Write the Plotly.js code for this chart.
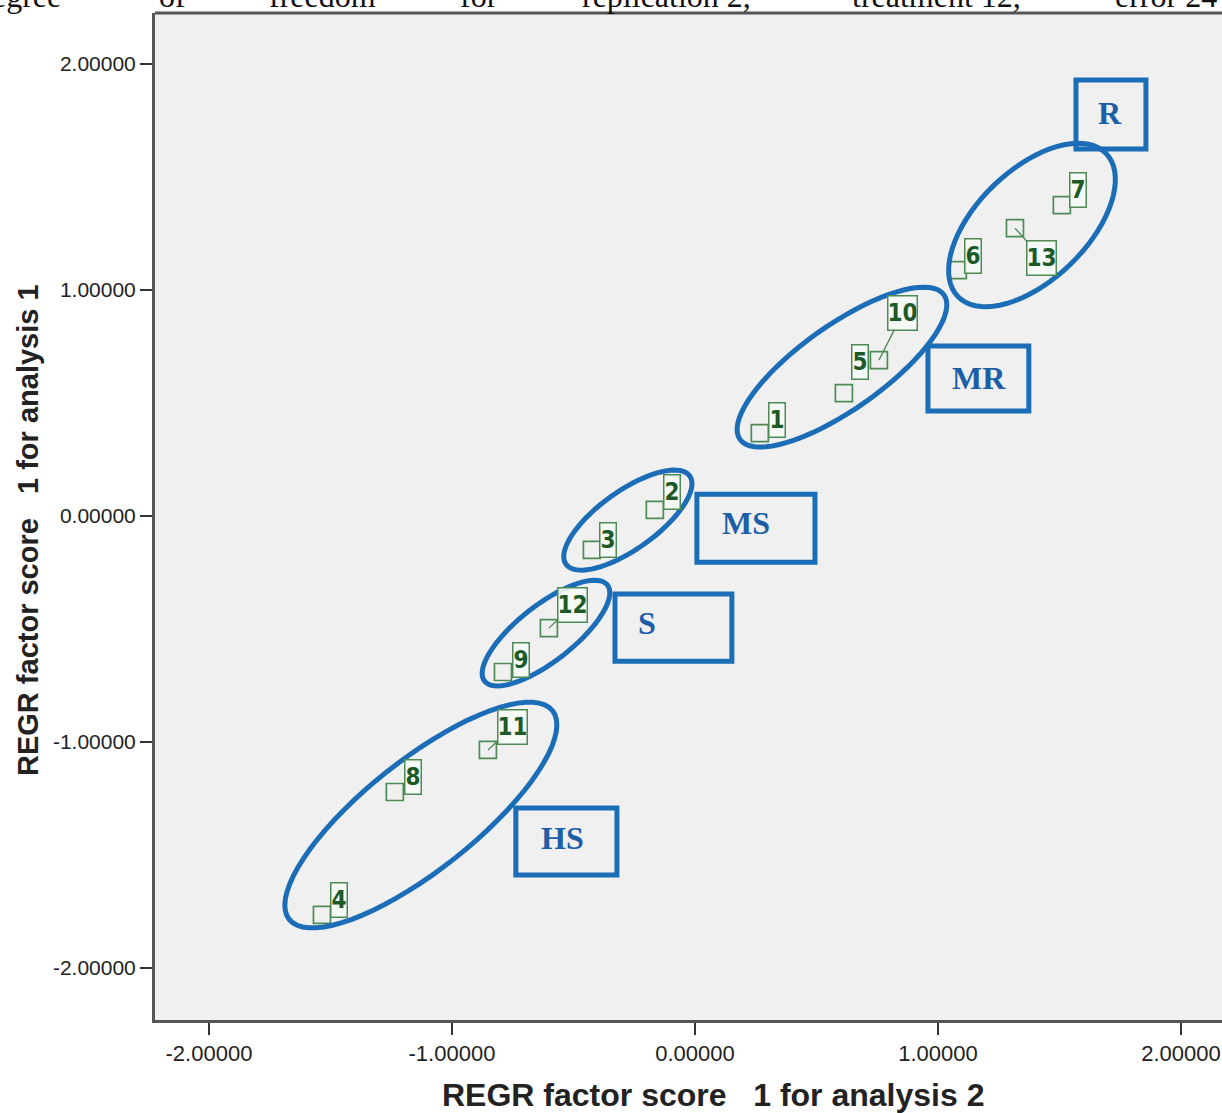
<!DOCTYPE html>
<html>
<head>
<meta charset="utf-8">
<script src="https://cdn.plot.ly/plotly-3.0.1.min.js"></script>
<style>html,body{margin:0;padding:0;background:#fff;}#chart{width:1222px;height:1113px;}</style>
</head>
<body>
<div id="chart"></div>
<script>
// ---- data ----
const pointIds = ['1','2','3','4','5','6','7','8','9','10','11','12','13'];
const factorScore2 = [0.267, -0.165, -0.424, -1.535, 0.613, 1.082, 1.510, -1.235, -0.790, 0.757, -0.852, -0.601, 1.317];
const factorScore1 = [0.367, 0.027, -0.150, -1.765, 0.544, 1.088, 1.376, -1.221, -0.690, 0.690, -1.035, -0.496, 1.274];
const tickValues = [-2, -1, 0, 1, 2];
const tickLabels = ['-2.00000', '-1.00000', '0.00000', '1.00000', '2.00000'];
const groupNames = ['R', 'MR', 'MS', 'S', 'HS'];
const groupCenterX = [1.387, 0.605, -0.276, -0.613, -1.128];
const groupCenterY = [1.288, 0.659, -0.018, -0.518, -1.323];
const groupBoxX0 = [1.568, 0.959, 0.008, -0.329, -0.737];
const groupBoxX1 = [1.856, 1.374, 0.494, 0.152, -0.321];
const groupBoxY0 = [1.624, 0.465, -0.204, -0.642, -1.588];
const groupBoxY1 = [1.929, 0.752, 0.097, -0.345, -1.292];
const groupTextX = [1.708, 1.169, 0.210, -0.198, -0.547];
const groupTextY = [1.783, 0.611, -0.031, -0.473, -1.425];
const noteWords = ['degree', 'of', 'freedom', 'for', 'replication 2,', 'treatment 12,', 'error 24'];
const xTitle = 'REGR factor score\u00a0\u00a0 1 for analysis 2';
const yTitle = 'REGR factor score\u00a0\u00a0 1 for analysis 1';

// ---- layout / style settings (not data) ----
const W = 1222, H = 1113;
const M = {l: 155, r: 0, t: 13, b: 93};
const xRange = [-2.222, 2.169];
const yRange = [-2.230, 2.226];
const plotW = W - M.l - M.r, plotH = H - M.t - M.b;
const sx = plotW / (xRange[1] - xRange[0]);
const sy = plotH / (yRange[1] - yRange[0]);

// label offsets (px) from marker to its number box, and whether a leader line is drawn
const labelDX = [17, 17, 16, 17, 16, 15, 16, 18, 18, 24, 25, 24, 27];
const labelDY = [-13, -18, -10, -15, -31, -14, -15, -15, -12, -47, -23, -23, 30];
const leader = [false, false, false, false, false, false, false, false, false, true, true, true, true];
// ellipse shape (px semi-axes, degrees)
const ellA = [103, 125, 76, 78, 168];
const ellB = [55, 42, 29, 28, 55];
const ellAng = [44, 35.3, 35.5, 38, 38.4];
// note word anchors (px)
const notePx = [63, 157, 267, 458, 580, 850, 1113];
const noteAnchor = ['right', 'left', 'left', 'left', 'left', 'left', 'left'];

const BLUE = '#1a6db6';
const GREEN = '#4e8a55';

function ellipsePath(i) {
  const th = ellAng[i] * Math.PI / 180;
  let d = '';
  const n = 72;
  for (let k = 0; k <= n; k++) {
    const t = 2 * Math.PI * k / n;
    const px = ellA[i] * Math.cos(t) * Math.cos(th) - ellB[i] * Math.sin(t) * Math.sin(th);
    const py = ellA[i] * Math.cos(t) * Math.sin(th) + ellB[i] * Math.sin(t) * Math.cos(th);
    const x = groupCenterX[i] + px / sx;
    const y = groupCenterY[i] + py / sy;
    d += (k === 0 ? 'M' : 'L') + x.toFixed(5) + ',' + y.toFixed(5);
  }
  return d + 'Z';
}

const shapes = [];
for (let i = 0; i < groupNames.length; i++) {
  shapes.push({type: 'path', xref: 'x', yref: 'y', path: ellipsePath(i),
    line: {color: BLUE, width: 5}, fillcolor: 'rgba(0,0,0,0)'});
  shapes.push({type: 'rect', xref: 'x', yref: 'y',
    x0: groupBoxX0[i], x1: groupBoxX1[i], y0: groupBoxY0[i], y1: groupBoxY1[i],
    line: {color: BLUE, width: 5}, fillcolor: 'rgba(0,0,0,0)'});
}
shapes.push({type: 'line', xref: 'paper', yref: 'paper', x0: 0, x1: 1, y0: 1, y1: 1,
  line: {color: '#555', width: 3}});

const annotations = [];
for (let i = 0; i < pointIds.length; i++) {
  const two = pointIds[i].length > 1;
  const a = {
    x: factorScore2[i], y: factorScore1[i], xref: 'x', yref: 'y',
    text: '<b>' + pointIds[i] + '</b>',
    font: {family: 'DejaVu Sans Condensed, Liberation Sans Narrow, Arial Narrow, sans-serif', size: 24, color: '#1d5a28'},
    bordercolor: GREEN, borderwidth: 1.5, borderpad: 0, bgcolor: 'rgba(246,251,246,0.9)',
    width: two ? 28 : 15, height: 33, align: 'center', valign: 'middle'
  };
  if (leader[i]) {
    Object.assign(a, {showarrow: true, arrowhead: 0, arrowwidth: 1.3, arrowcolor: GREEN,
      ax: labelDX[i], ay: labelDY[i], standoff: 0});
  } else {
    Object.assign(a, {showarrow: false, xshift: labelDX[i], yshift: -labelDY[i]});
  }
  annotations.push(a);
}
for (let i = 0; i < groupNames.length; i++) {
  annotations.push({
    x: groupTextX[i], y: groupTextY[i], xref: 'x', yref: 'y', text: '<b>' + groupNames[i] + '</b>',
    showarrow: false,
    font: {family: 'Liberation Serif, Times New Roman, serif', size: 32, color: '#1d5fa6'}
  });
}
for (let i = 0; i < noteWords.length; i++) {
  annotations.push({
    x: (notePx[i] - M.l) / plotW, y: 1 - 3 / plotH, xref: 'paper', yref: 'paper',
    xanchor: noteAnchor[i], yanchor: 'bottom', text: noteWords[i], showarrow: false,
    font: {family: 'Liberation Serif, Times New Roman, serif', size: 32, color: '#111'}
  });
}
// axis titles placed like the reference (centred on the original, wider frame)
annotations.push({
  x: (713 - M.l) / plotW, y: 0, xref: 'paper', yref: 'paper', yanchor: 'top', yshift: -55,
  text: '<b>' + xTitle + '</b>', showarrow: false,
  font: {family: 'Liberation Sans, Arial, sans-serif', size: 32, color: '#222'}
});
annotations.push({
  x: (28 - M.l) / plotW, y: 1 - (530 - M.t) / plotH, xref: 'paper', yref: 'paper',
  xanchor: 'center', yanchor: 'middle', textangle: -90,
  text: '<b>' + yTitle + '</b>', showarrow: false,
  font: {family: 'Liberation Sans, Arial, sans-serif', size: 29, color: '#222'}
});

const trace = {
  x: factorScore2, y: factorScore1, type: 'scatter', mode: 'markers',
  marker: {symbol: 'square-open', size: 17, color: GREEN, line: {width: 1.7, color: GREEN}},
  hoverinfo: 'x+y'
};

const layout = {
  width: W, height: H, margin: M,
  paper_bgcolor: '#ffffff', plot_bgcolor: '#f0f0f0',
  showlegend: false,
  font: {family: 'Liberation Sans, Arial, sans-serif', color: '#222'},
  xaxis: {
    range: xRange, tickvals: tickValues, ticktext: tickLabels,
    ticks: 'outside', ticklen: 12, tickwidth: 1.5, tickcolor: '#333',
    showline: true, linecolor: '#555', linewidth: 3, showgrid: false, zeroline: false,
    tickfont: {size: 22, color: '#222'}, automargin: false
  },
  yaxis: {
    range: yRange, tickvals: tickValues, ticktext: tickLabels,
    ticks: 'outside', ticklen: 12, tickwidth: 1.5, tickcolor: '#333',
    showline: true, linecolor: '#555', linewidth: 3, showgrid: false, zeroline: false,
    tickfont: {size: 21, color: '#222'}, automargin: false
  },
  shapes: shapes,
  annotations: annotations
};

Plotly.newPlot('chart', [trace], layout, {displayModeBar: false, staticPlot: true});
</script>
</body>
</html>
